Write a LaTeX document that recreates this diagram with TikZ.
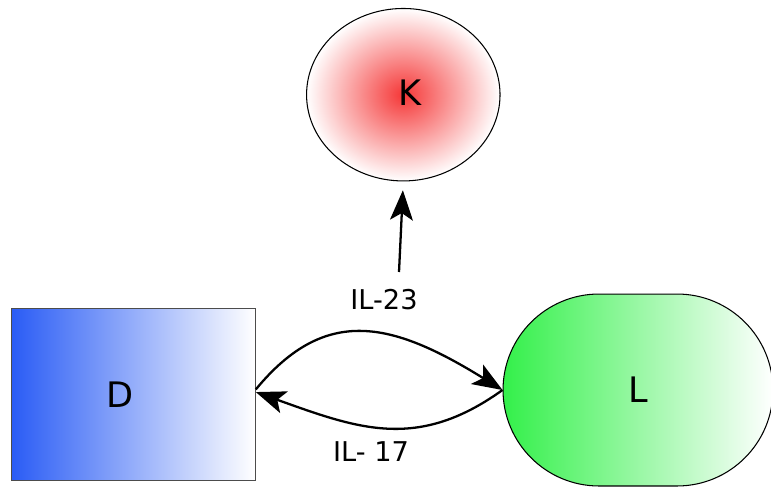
\documentclass[tikz,border=0pt]{standalone}
\usepackage{fontspec}
\setmainfont{DejaVu Sans}
\usetikzlibrary{arrows.meta,shapes.geometric,shapes.misc}

\definecolor{kred}{RGB}{245,55,55}
\definecolor{dblue}{RGB}{42,92,245}
\definecolor{lgreen}{RGB}{51,240,74}

\tikzset{
    cell/.style={inner sep=0pt, font=\fontsize{20}{24}\selectfont},
    cytokine/.style={inner sep=0pt, font=\fontsize{15.5}{18}\selectfont},
    signal/.style={line width=1.3pt, -{Stealth[length=17pt,width=13pt,inset=4pt]}}
}

\begin{document}
\begin{tikzpicture}[x=0.02cm,y=-0.02cm]
    \useasboundingbox (0,0) rectangle (771,488);

    % Draw cells
    \node[cell, ellipse, draw=black, line width=0.6pt,
          inner color=kred, outer color=white,
          minimum width=3.87cm, minimum height=3.45cm] (K) at (403.3,94.7) {\hspace*{8pt}\raisebox{2.7pt}{K}};
    \node[cell, rectangle, draw=black!70, line width=0.6pt,
          left color=dblue, right color=white,
          minimum width=4.88cm, minimum height=3.45cm] (D) at (133.3,394.7) {D\hspace*{15.3pt}};
    \node[cell, rounded rectangle, draw=black, line width=0.6pt,
          left color=lgreen, right color=white,
          minimum width=5.4cm, minimum height=3.84cm] (L) at (638,390) {L};

    % Draw signals
    \coordinate (kin) at (399,272);
    \draw[signal, shorten >=5pt] (kin) -- (K.south);
    \draw[signal] ([yshift=3pt]D.east) .. controls +(70,-85) and +(-110,-68) .. (L.west);
    \draw[signal] (L.west) .. controls +(-85,61) and +(103,37) .. ([yshift=1.5pt]D.east);

    \node[cytokine] (il23) at (384,300) {IL-23};
    \node[cytokine] (il17) at (371,452) {IL- 17};
\end{tikzpicture}
\end{document}
